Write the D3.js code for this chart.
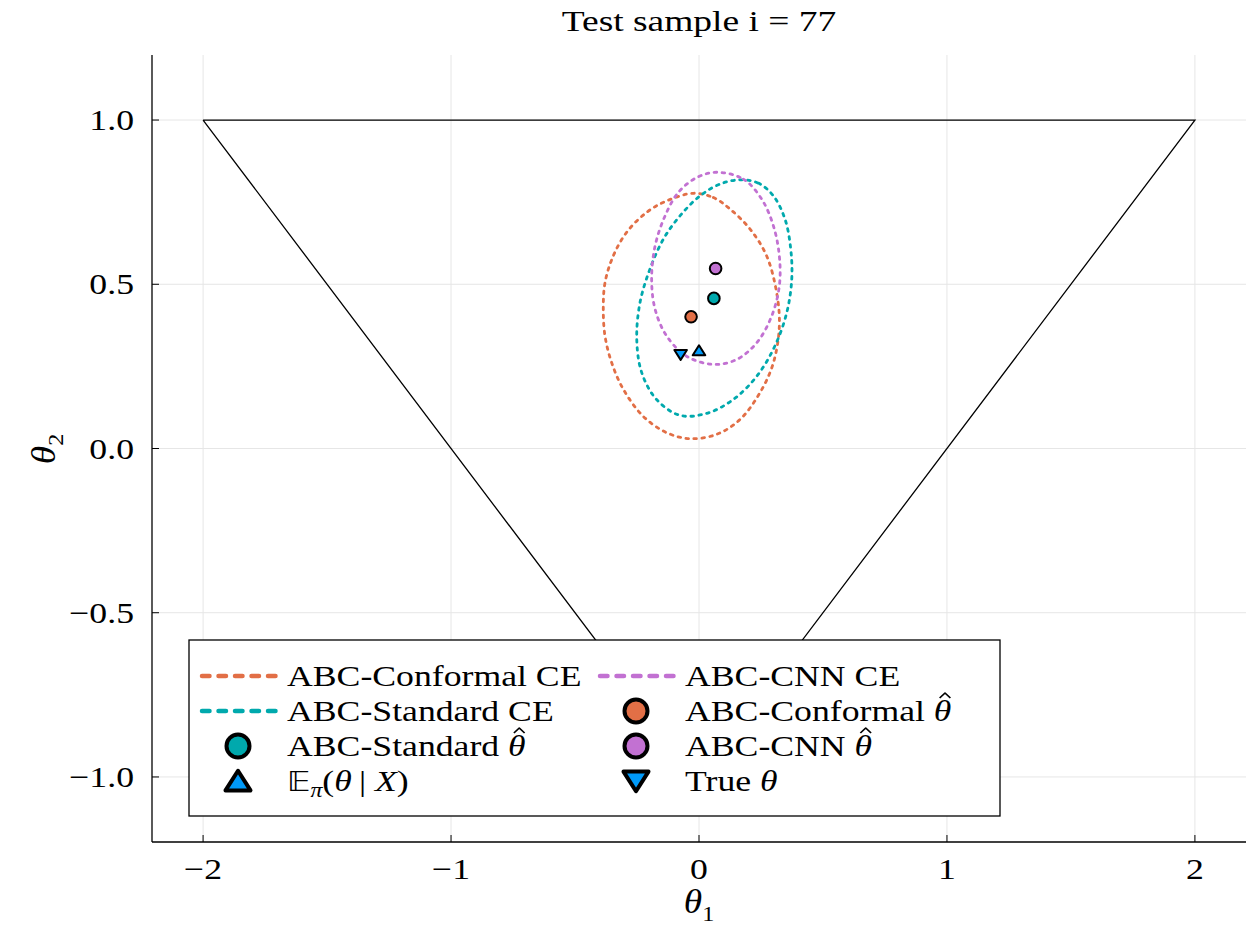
<!DOCTYPE html>
<html>
<head>
<meta charset="utf-8">
<script src="https://cdn.jsdelivr.net/npm/d3@7"></script>
<style>
  body { margin: 0; background: #fff; }
  text { font-family: "Liberation Serif", "DejaVu Serif", serif; fill: #000; }
</style>
</head>
<body>
<svg id="chart" width="1248" height="935"></svg>
<script>
// tick values
const xTicks = [-2, -1, 0, 1, 2];
const yTicks = [-1, -0.5, 0, 0.5, 1];
const xTickLabels = ["\u22122", "\u22121", "0", "1", "2"];
const yTickLabels = ["\u22121.0", "\u22120.5", "0.0", "0.5", "1.0"];

// prior support (triangle)
const regionX = [-2, 2, 0, -2];
const regionY = [1, 1, -1, 1];

// credible-region outlines
const conformalCE = [
  [-0.023, 0.777], [0.058, 0.764], [0.125, 0.729], [0.206, 0.668], [0.273, 0.586],
  [0.313, 0.475], [0.324, 0.373], [0.300, 0.261], [0.246, 0.170], [0.165, 0.088],
  [0.071, 0.043], [-0.036, 0.030], [-0.130, 0.048], [-0.225, 0.098], [-0.305, 0.180],
  [-0.352, 0.261], [-0.379, 0.342], [-0.386, 0.424], [-0.379, 0.505], [-0.346, 0.586],
  [-0.292, 0.658], [-0.211, 0.719], [-0.130, 0.754]
];
const standardCE = [
  [0.165, 0.818], [0.239, 0.808], [0.300, 0.769], [0.347, 0.698], [0.370, 0.607],
  [0.374, 0.515], [0.354, 0.414], [0.306, 0.312], [0.233, 0.220], [0.138, 0.149],
  [0.031, 0.107], [-0.077, 0.101], [-0.171, 0.149], [-0.231, 0.231], [-0.251, 0.332],
  [-0.238, 0.444], [-0.198, 0.546], [-0.144, 0.637], [-0.077, 0.708], [0.004, 0.769],
  [0.085, 0.805]
];
const cnnCE = [
  [0.071, 0.841], [0.179, 0.820], [0.253, 0.759], [0.300, 0.678], [0.324, 0.586],
  [0.324, 0.495], [0.293, 0.403], [0.233, 0.322], [0.152, 0.271], [0.058, 0.256],
  [-0.050, 0.281], [-0.130, 0.342], [-0.177, 0.424], [-0.191, 0.515], [-0.177, 0.617],
  [-0.137, 0.708], [-0.083, 0.780], [-0.009, 0.825]
];

// point estimates
const conformalHat = [-0.032, 0.401];
const standardHat = [0.060, 0.457];
const cnnHat = [0.067, 0.548];
const postMean = [0.000, 0.297];
const trueTheta = [-0.074, 0.287];

const colOrange = "#e26f46", colTeal = "#00a9ad", colPurple = "#c271d2", colBlue = "#009af9";

const svg = d3.select("#chart");
const plotLeft = 152, plotRight = 1246, plotTop = 55, plotBottom = 842;
const stretch = 1.19; // computer-modern is wider than the serif we have

const x = d3.scaleLinear().domain([-2.206, 2.206]).range([plotLeft, plotRight]);
const y = d3.scaleLinear().domain([-1.198, 1.198]).range([plotBottom, plotTop]);

// text placed in a group so it can be widened a bit
function label(px, py, size, anchor, sx) {
    var g = svg.append("g").attr("transform", "translate(" + px + "," + py + ") scale(" + (sx || stretch) + ",1)");
    return g.append("text").attr("x", 0).attr("y", 0).attr("font-size", size).attr("text-anchor", anchor || "start");
}

// grid
svg.append("g").selectAll("line").data(xTicks).join("line")
    .attr("x1", d => x(d)).attr("x2", d => x(d))
    .attr("y1", plotTop).attr("y2", plotBottom)
    .attr("stroke", "#e6e6e6").attr("stroke-width", 1);
svg.append("g").selectAll("line").data(yTicks).join("line")
    .attr("x1", plotLeft).attr("x2", plotRight)
    .attr("y1", d => y(d)).attr("y2", d => y(d))
    .attr("stroke", "#e6e6e6").attr("stroke-width", 1);

// triangle
svg.append("path")
    .attr("d", d3.line().x(d => x(d)).y((d, i) => y(regionY[i]))(regionX))
    .attr("fill", "none").attr("stroke", "#000").attr("stroke-width", 1.3);

// ellipses
const ring = d3.line().x(d => x(d[0])).y(d => y(d[1])).curve(d3.curveCatmullRomClosed);
[[conformalCE, colOrange], [standardCE, colTeal], [cnnCE, colPurple]].forEach(function (e) {
    svg.append("path")
        .attr("d", ring(e[0]))
        .attr("fill", "none")
        .attr("stroke", e[1])
        .attr("stroke-width", 2.8)
        .attr("stroke-linecap", "round")
        .attr("stroke-dasharray", "2.6,5.4");
});

function triPath(cx, cy, s, up) {
    var h = s * 0.9;
    if (up) return "M" + cx + "," + (cy - h) + "L" + (cx + s) + "," + (cy + h * 0.75) + "L" + (cx - s) + "," + (cy + h * 0.75) + "Z";
    return "M" + cx + "," + (cy + h) + "L" + (cx + s) + "," + (cy - h * 0.75) + "L" + (cx - s) + "," + (cy - h * 0.75) + "Z";
}

// markers
[[conformalHat, colOrange], [standardHat, colTeal], [cnnHat, colPurple]].forEach(function (p) {
    svg.append("circle")
        .attr("cx", x(p[0][0])).attr("cy", y(p[0][1])).attr("r", 5.8)
        .attr("fill", p[1]).attr("stroke", "#000").attr("stroke-width", 2);
});
svg.append("path").attr("d", triPath(x(postMean[0]), y(postMean[1]), 6.3, true))
    .attr("fill", colBlue).attr("stroke", "#000").attr("stroke-width", 2).attr("stroke-linejoin", "round");
svg.append("path").attr("d", triPath(x(trueTheta[0]), y(trueTheta[1]), 6.3, false))
    .attr("fill", colBlue).attr("stroke", "#000").attr("stroke-width", 2).attr("stroke-linejoin", "round");

// axes (left and bottom spines, inward ticks)
svg.append("line").attr("x1", plotLeft).attr("x2", plotRight).attr("y1", plotBottom).attr("y2", plotBottom)
    .attr("stroke", "#000").attr("stroke-width", 1.3);
svg.append("line").attr("x1", plotLeft).attr("x2", plotLeft).attr("y1", plotTop).attr("y2", plotBottom)
    .attr("stroke", "#000").attr("stroke-width", 1.3);
svg.append("g").selectAll("line").data(xTicks).join("line")
    .attr("x1", d => x(d)).attr("x2", d => x(d)).attr("y1", plotBottom).attr("y2", plotBottom - 7)
    .attr("stroke", "#000").attr("stroke-width", 1);
svg.append("g").selectAll("line").data(yTicks).join("line")
    .attr("x1", plotLeft).attr("x2", plotLeft + 7).attr("y1", d => y(d)).attr("y2", d => y(d))
    .attr("stroke", "#000").attr("stroke-width", 1);

xTicks.forEach(function (d, i) {
    label(x(d), 879, 30, "middle").text(xTickLabels[i]);
});
yTicks.forEach(function (d, i) {
    label(134, y(d) + 10, 30, "end").text(yTickLabels[i]);
});

// axis labels
var xl = label(699, 913, 34, "middle", 1.1);
xl.append("tspan").attr("font-style", "italic").text("\u03b8");
xl.append("tspan").attr("font-size", 22).attr("dy", 8).text("1");
var yl = svg.append("g").attr("transform", "translate(55,449) rotate(-90) scale(1.1,1)")
    .append("text").attr("text-anchor", "middle").attr("font-size", 34);
yl.append("tspan").attr("font-style", "italic").text("\u03b8");
yl.append("tspan").attr("font-size", 22).attr("dy", 8).text("2");

// title
label(699, 31, 30, "middle", 1.25).text("Test sample i = 77");

// legend
const legendItems = [
    { kind: "line", color: colOrange, label: "ABC-Conformal CE" },
    { kind: "line", color: colPurple, label: "ABC-CNN CE" },
    { kind: "line", color: colTeal, label: "ABC-Standard CE" },
    { kind: "circle", color: colOrange, label: "ABC-Conformal", hat: true },
    { kind: "circle", color: colTeal, label: "ABC-Standard", hat: true },
    { kind: "circle", color: colPurple, label: "ABC-CNN", hat: true },
    { kind: "up", color: colBlue, label: "E" },
    { kind: "down", color: colBlue, label: "True" }
];
const legendRowsY = [676, 711, 746, 781];
const legendColX = [200, 598];

svg.append("rect").attr("x", 189).attr("y", 640).attr("width", 811).attr("height", 176)
    .attr("fill", "#fff").attr("stroke", "#000").attr("stroke-width", 1.3);

legendItems.forEach(function (it, i) {
    var cx = legendColX[i % 2], cy = legendRowsY[Math.floor(i / 2)];
    if (it.kind === "line") {
        svg.append("line").attr("x1", cx + 2).attr("x2", cx + 82).attr("y1", cy).attr("y2", cy)
            .attr("stroke", it.color).attr("stroke-width", 4.5).attr("stroke-linecap", "round")
            .attr("stroke-dasharray", "7.5,9");
    } else if (it.kind === "circle") {
        svg.append("circle").attr("cx", cx + 38).attr("cy", cy).attr("r", 11.5)
            .attr("fill", it.color).attr("stroke", "#000").attr("stroke-width", 4);
    } else {
        svg.append("path").attr("d", triPath(cx + 38, cy + (it.kind === "up" ? 1 : -1), 12.5, it.kind === "up"))
            .attr("fill", it.color).attr("stroke", "#000").attr("stroke-width", 4).attr("stroke-linejoin", "round");
    }
    var t = label(cx + 87, cy + 10, 30, "start");
    if (it.label === "E") {
        t.append("tspan").attr("font-family", "DejaVu Sans").attr("font-size", 27).text("\ud835\udd3c");
        t.append("tspan").attr("font-style", "italic").attr("font-size", 20).attr("dy", 6).text("\u03c0");
        t.append("tspan").attr("dy", -6).text("(");
        t.append("tspan").attr("font-style", "italic").text("\u03b8");
        t.append("tspan").text("\u2009| ");
        t.append("tspan").attr("font-style", "italic").text("X");
        t.append("tspan").text(")");
    } else if (it.label === "True") {
        t.append("tspan").text("True ");
        t.append("tspan").attr("font-style", "italic").text("\u03b8");
    } else if (it.hat) {
        t.append("tspan").text(it.label + " ");
        t.append("tspan").attr("font-style", "italic").text("\u03b8");
        // hat over theta, drawn as a small chevron
        var n = t.node(), k = n.getNumberOfChars() - 1;
        var a = n.getStartPositionOfChar(k).x, b = n.getEndPositionOfChar(k).x;
        var hc = (a + b) / 2 + 2;
        d3.select(n.parentNode).append("path")
            .attr("d", "M" + (hc - 4.5) + ",-23 L" + hc + ",-28 L" + (hc + 4.5) + ",-23")
            .attr("fill", "none").attr("stroke", "#000").attr("stroke-width", 1.4)
            .attr("stroke-linejoin", "round");
    } else {
        t.text(it.label);
    }
});
</script>
</body>
</html>
